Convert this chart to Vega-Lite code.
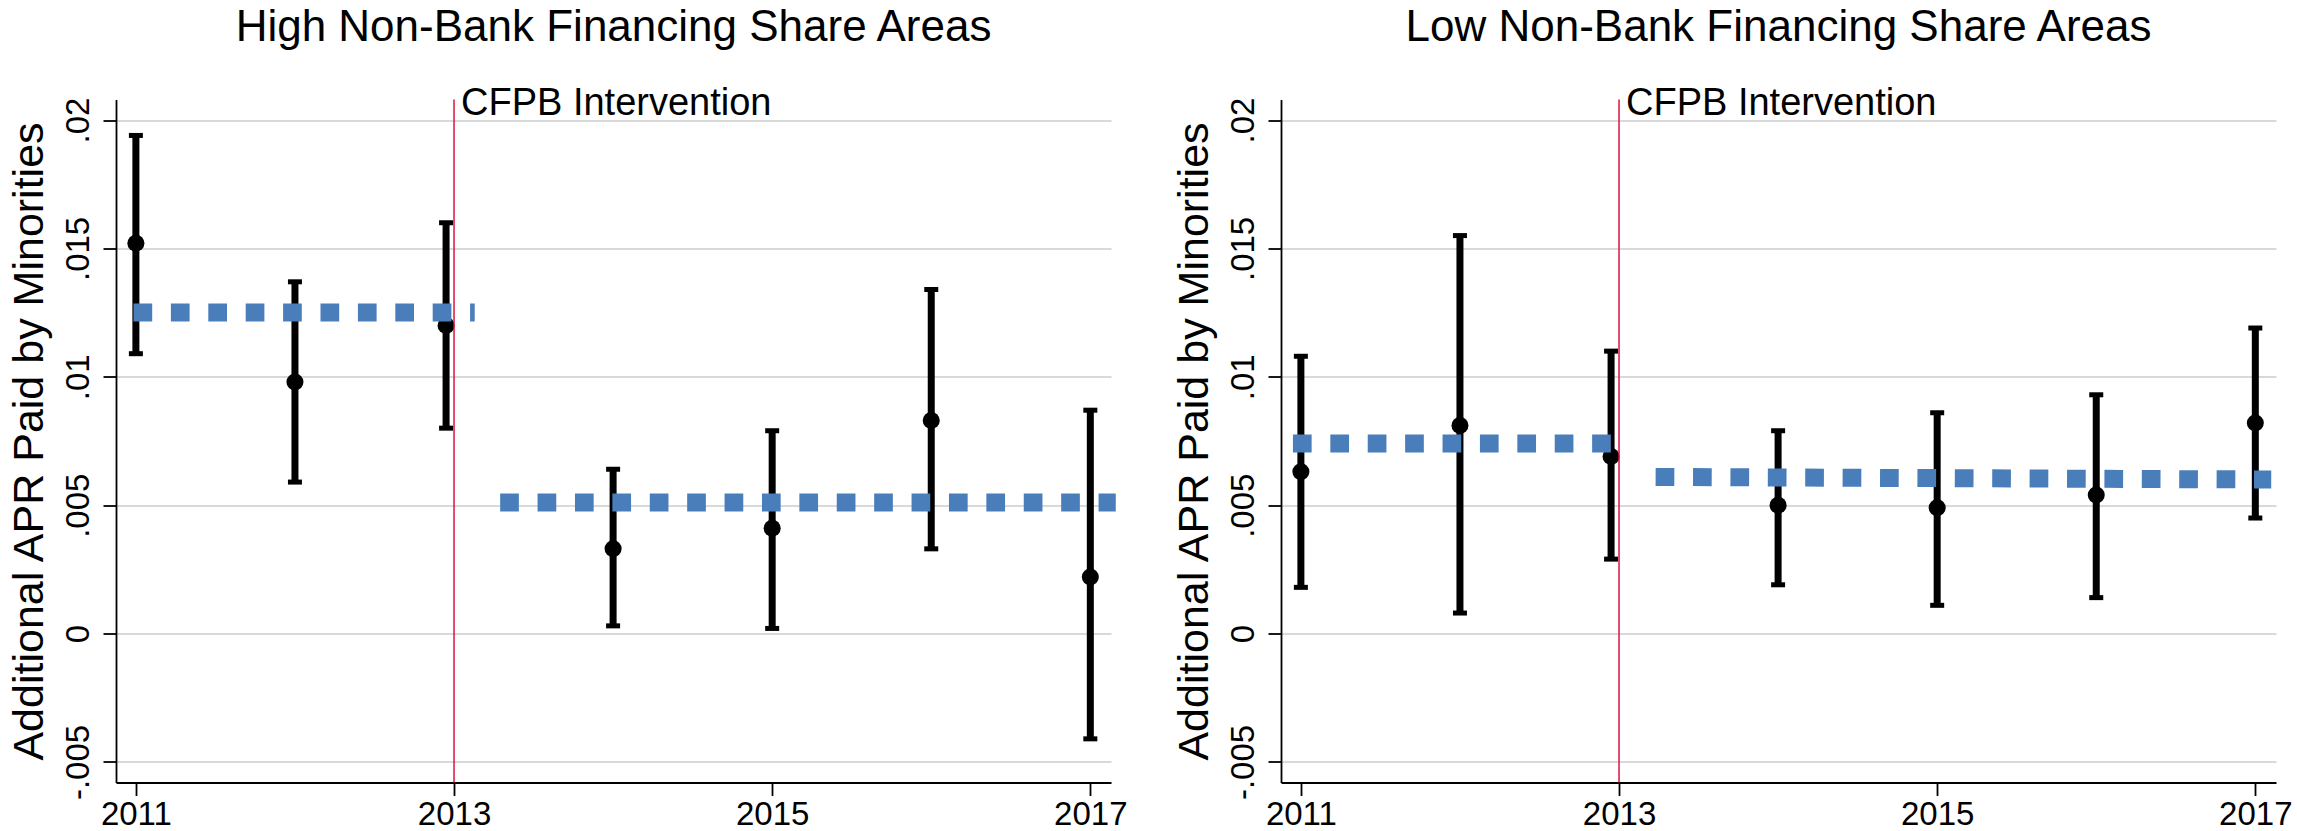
{
  "$schema": "https://vega.github.io/schema/vega-lite/v6.json",
  "background": "white",
  "padding": {"left": 8, "top": 5.5, "right": 5, "bottom": 0},
  "datasets": {
    "est": [
      {"panel": "High", "year": 2011, "est": 0.0152, "lo": 0.0109, "hi": 0.0194},
      {"panel": "High", "year": 2012, "est": 0.0098, "lo": 0.0059, "hi": 0.0137},
      {"panel": "High", "year": 2012.95, "est": 0.0120, "lo": 0.0080, "hi": 0.0160},
      {"panel": "High", "year": 2014, "est": 0.0033, "lo": 0.0003, "hi": 0.0064},
      {"panel": "High", "year": 2015, "est": 0.0041, "lo": 0.0002, "hi": 0.0079},
      {"panel": "High", "year": 2016, "est": 0.0083, "lo": 0.0033, "hi": 0.0134},
      {"panel": "High", "year": 2017, "est": 0.0022, "lo": -0.0041, "hi": 0.0087},
      {"panel": "Low", "year": 2011, "est": 0.0063, "lo": 0.0018, "hi": 0.0108},
      {"panel": "Low", "year": 2012, "est": 0.0081, "lo": 0.0008, "hi": 0.0155},
      {"panel": "Low", "year": 2012.95, "est": 0.0069, "lo": 0.0029, "hi": 0.0110},
      {"panel": "Low", "year": 2014, "est": 0.0050, "lo": 0.0019, "hi": 0.0079},
      {"panel": "Low", "year": 2015, "est": 0.0049, "lo": 0.0011, "hi": 0.0086},
      {"panel": "Low", "year": 2016, "est": 0.0054, "lo": 0.0014, "hi": 0.0093},
      {"panel": "Low", "year": 2017, "est": 0.0082, "lo": 0.0045, "hi": 0.0119}
    ],
    "fit": [
      {"panel": "High", "period": "pre", "year": 2010.985, "value": 0.0125},
      {"panel": "High", "period": "pre", "year": 2013.13, "value": 0.0125},
      {"panel": "High", "period": "post", "year": 2013.29, "value": 0.0051},
      {"panel": "High", "period": "post", "year": 2017.16, "value": 0.0051},
      {"panel": "Low", "period": "pre", "year": 2010.95, "value": 0.0074},
      {"panel": "Low", "period": "pre", "year": 2012.95, "value": 0.0074},
      {"panel": "Low", "period": "post", "year": 2013.23, "value": 0.0061},
      {"panel": "Low", "period": "post", "year": 2017.1, "value": 0.0060}
    ],
    "event": [
      {"year": 2013, "label": "CFPB Intervention", "labelY": 0.0202}
    ]
  },
  "bounds": "flush",
  "spacing": 170,
  "hconcat": [
    {
      "width": 995,
      "height": 683,
      "title": {"text": "High Non-Bank Financing Share Areas", "frame": "group", "anchor": "middle", "offset": 35},
      "layer": [
        {
          "data": {"name": "est"},
          "transform": [{"filter": "datum.panel == 'High'"}],
          "mark": {"type": "rule", "color": "black", "strokeWidth": 7},
          "encoding": {
            "x": {"field": "year", "type": "quantitative", "scale": {"domain": [2010.875, 2017.13], "nice": false, "zero": false},
                  "axis": {"values": [2011, 2013, 2015, 2017], "format": "d", "title": null}},
            "y": {"field": "lo", "type": "quantitative", "scale": {"domain": [-0.0058, 0.0208], "nice": false, "zero": false},
                  "axis": {"values": [-0.005, 0, 0.005, 0.01, 0.015, 0.02], "labelExpr": "replace(toString(datum.value), '0.', '.')", "title": "Additional APR Paid by Minorities"}},
            "y2": {"field": "hi"}
          }
        },
        {
          "data": {"name": "est"},
          "transform": [{"filter": "datum.panel == 'High'"}],
          "mark": {"type": "tick", "orient": "horizontal", "color": "black", "size": 14, "thickness": 5, "opacity": 1},
          "encoding": {"x": {"field": "year", "type": "quantitative"}, "y": {"field": "lo", "type": "quantitative"}}
        },
        {
          "data": {"name": "est"},
          "transform": [{"filter": "datum.panel == 'High'"}],
          "mark": {"type": "tick", "orient": "horizontal", "color": "black", "size": 14, "thickness": 5, "opacity": 1},
          "encoding": {"x": {"field": "year", "type": "quantitative"}, "y": {"field": "hi", "type": "quantitative"}}
        },
        {
          "data": {"name": "est"},
          "transform": [{"filter": "datum.panel == 'High'"}],
          "mark": {"type": "circle", "color": "black", "size": 290, "opacity": 1},
          "encoding": {"x": {"field": "year", "type": "quantitative"}, "y": {"field": "est", "type": "quantitative"}}
        },
        {
          "data": {"name": "fit"},
          "transform": [{"filter": "datum.panel == 'High'"}],
          "mark": {"type": "line", "color": "#4a7ebb", "strokeWidth": 18, "strokeDash": [18.7, 18.7], "strokeCap": "butt"},
          "encoding": {"x": {"field": "year", "type": "quantitative"}, "y": {"field": "value", "type": "quantitative"}, "detail": {"field": "period"}}
        },
        {
          "data": {"name": "event"},
          "mark": {"type": "rule", "color": "#dc143c", "strokeWidth": 1.5},
          "encoding": {"x": {"field": "year", "type": "quantitative"}}
        },
        {
          "data": {"name": "event"},
          "mark": {"type": "text", "align": "left", "baseline": "alphabetic", "dx": 7, "font": "Liberation Sans", "fontSize": 38, "color": "black"},
          "encoding": {"x": {"field": "year", "type": "quantitative"}, "y": {"field": "labelY", "type": "quantitative"}, "text": {"field": "label"}}
        }
      ]
    },
    {
      "width": 995,
      "height": 683,
      "title": {"text": "Low Non-Bank Financing Share Areas", "frame": "group", "anchor": "middle", "offset": 35},
      "layer": [
        {
          "data": {"name": "est"},
          "transform": [{"filter": "datum.panel == 'Low'"}],
          "mark": {"type": "rule", "color": "black", "strokeWidth": 7},
          "encoding": {
            "x": {"field": "year", "type": "quantitative", "scale": {"domain": [2010.875, 2017.13], "nice": false, "zero": false},
                  "axis": {"values": [2011, 2013, 2015, 2017], "format": "d", "title": null}},
            "y": {"field": "lo", "type": "quantitative", "scale": {"domain": [-0.0058, 0.0208], "nice": false, "zero": false},
                  "axis": {"values": [-0.005, 0, 0.005, 0.01, 0.015, 0.02], "labelExpr": "replace(toString(datum.value), '0.', '.')", "title": "Additional APR Paid by Minorities"}},
            "y2": {"field": "hi"}
          }
        },
        {
          "data": {"name": "est"},
          "transform": [{"filter": "datum.panel == 'Low'"}],
          "mark": {"type": "tick", "orient": "horizontal", "color": "black", "size": 14, "thickness": 5, "opacity": 1},
          "encoding": {"x": {"field": "year", "type": "quantitative"}, "y": {"field": "lo", "type": "quantitative"}}
        },
        {
          "data": {"name": "est"},
          "transform": [{"filter": "datum.panel == 'Low'"}],
          "mark": {"type": "tick", "orient": "horizontal", "color": "black", "size": 14, "thickness": 5, "opacity": 1},
          "encoding": {"x": {"field": "year", "type": "quantitative"}, "y": {"field": "hi", "type": "quantitative"}}
        },
        {
          "data": {"name": "est"},
          "transform": [{"filter": "datum.panel == 'Low'"}],
          "mark": {"type": "circle", "color": "black", "size": 290, "opacity": 1},
          "encoding": {"x": {"field": "year", "type": "quantitative"}, "y": {"field": "est", "type": "quantitative"}}
        },
        {
          "data": {"name": "fit"},
          "transform": [{"filter": "datum.panel == 'Low'"}],
          "mark": {"type": "line", "color": "#4a7ebb", "strokeWidth": 18, "strokeDash": [18.7, 18.7], "strokeCap": "butt"},
          "encoding": {"x": {"field": "year", "type": "quantitative"}, "y": {"field": "value", "type": "quantitative"}, "detail": {"field": "period"}}
        },
        {
          "data": {"name": "event"},
          "mark": {"type": "rule", "color": "#dc143c", "strokeWidth": 1.5},
          "encoding": {"x": {"field": "year", "type": "quantitative"}}
        },
        {
          "data": {"name": "event"},
          "mark": {"type": "text", "align": "left", "baseline": "alphabetic", "dx": 7, "font": "Liberation Sans", "fontSize": 38, "color": "black"},
          "encoding": {"x": {"field": "year", "type": "quantitative"}, "y": {"field": "labelY", "type": "quantitative"}, "text": {"field": "label"}}
        }
      ]
    }
  ],
  "config": {
    "view": {"stroke": null},
    "font": "Liberation Sans",
    "title": {"font": "Liberation Sans", "fontSize": 44, "fontWeight": "normal", "color": "black"},
    "axis": {
      "domainColor": "black", "domainWidth": 1.8, "tickColor": "black", "tickWidth": 1.8, "tickSize": 13,
      "labelFont": "Liberation Sans", "labelFontSize": 33, "labelColor": "black",
      "titleFont": "Liberation Sans", "titleFontSize": 43, "titleFontWeight": "normal", "titleColor": "black",
      "gridColor": "#d9d9d9", "gridWidth": 1.8
    },
    "axisX": {"grid": false, "labelPadding": 3},
    "axisY": {"grid": true, "labelAngle": -90, "labelAlign": "center", "labelBaseline": "alphabetic", "labelPadding": 15, "titlePadding": 11}
  }
}
